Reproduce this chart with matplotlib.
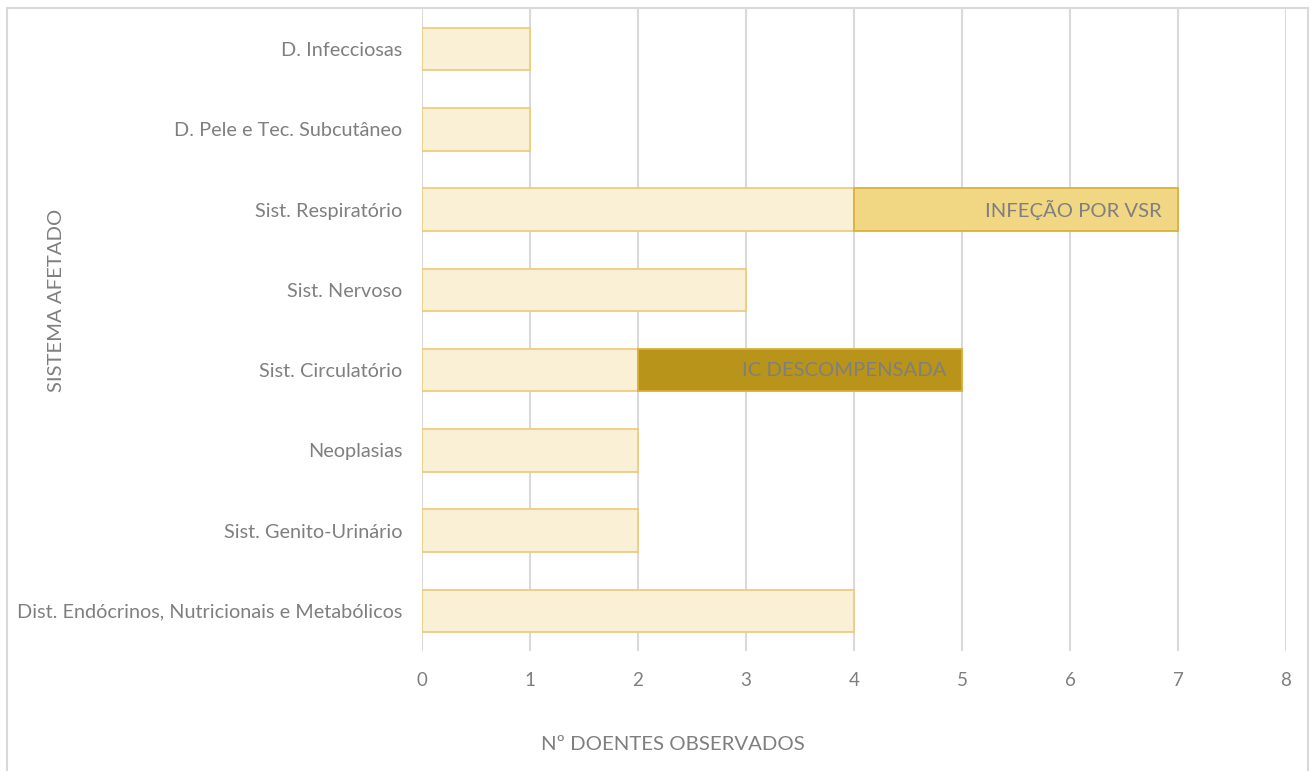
import matplotlib.pyplot as plt
from matplotlib.patches import Rectangle

plt.rcParams['font.family'] = ['Lato', 'DejaVu Sans']

# Patients per affected system, with the highlighted extra cases stacked on top
categories = ['D. Infecciosas', 'D. Pele e Tec. Subcutâneo', 'Sist. Respiratório',
              'Sist. Nervoso', 'Sist. Circulatório', 'Neoplasias',
              'Sist. Genito-Urinário', 'Dist. Endócrinos, Nutricionais e Metabólicos']
base_counts = [1, 1, 4, 3, 2, 2, 2, 4]
extra_counts = [0, 0, 3, 0, 3, 0, 0, 0]
extra_labels = ['', '', 'INFEÇÃO POR VSR', '', 'IC DESCOMPENSADA', '', '', '']
x_ticks = [0, 1, 2, 3, 4, 5, 6, 7, 8]

TEXT = '#7f7f7f'
GRID = '#d9d9d9'
extra_style = {
    'INFEÇÃO POR VSR': ('#f1d783', '#d9b23a'),
    'IC DESCOMPENSADA': ('#b8941a', '#d6b135'),
}

fig = plt.figure(figsize=(13.11, 7.71), dpi=100)
ax = fig.add_axes([422 / 1311, 1 - 651 / 771, 864 / 1311, 642 / 771])

# outer chart border (bottom edge runs off the canvas)
fig.patches.append(Rectangle((7 / 1311, -0.05), 1301 / 1311, 1.05 - 8 / 771,
                             transform=fig.transFigure, fill=False,
                             edgecolor=GRID, linewidth=1.5))

ypos = list(range(len(categories)))
bar_h = 0.53
ax.barh(ypos, base_counts, height=bar_h, color='#f9f0d6',
        edgecolor='#efcb80', linewidth=1.3, zorder=3)

for y, b, e, lab in zip(ypos, base_counts, extra_counts, extra_labels):
    if e == 0:
        continue
    fc, ec = extra_style[lab]
    ax.barh(y, e, left=b, height=bar_h, color=fc, edgecolor=ec,
            linewidth=1.3, zorder=3)
    ax.annotate(lab, xy=(b + e, y), xytext=(-16, 0), textcoords='offset pixels',
                ha='right', va='center', color=TEXT, fontsize=14.6, zorder=4)

ax.set_xlim(0, 8)
ax.set_ylim(len(categories) - 0.5, -0.5)
ax.set_xticks(x_ticks)
ax.set_yticks(ypos)
ax.set_yticklabels(categories)
ax.grid(axis='x', color=GRID, linewidth=1.5, zorder=0)
ax.set_axisbelow(True)
for s in ax.spines.values():
    s.set_visible(False)
ax.tick_params(axis='both', length=0, colors=TEXT, labelsize=14.3)
ax.tick_params(axis='x', labelsize=13.5)
ax.tick_params(axis='y', pad=14)
ax.tick_params(axis='x', pad=15)

fig.text(673 / 1311, 1 - 745 / 771, 'Nº DOENTES OBSERVADOS', ha='center',
         va='center', color=TEXT, fontsize=14.7)
fig.text(57 / 1311, 1 - 300 / 771, 'SISTEMA AFETADO', ha='center', va='center',
         rotation=90, color=TEXT, fontsize=14.6)

fig.savefig('out.png', dpi=100, facecolor='white')
